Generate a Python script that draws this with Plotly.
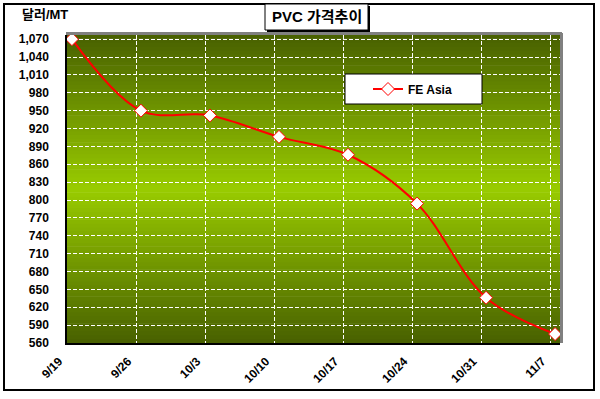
import plotly.graph_objects as go
import pandas as pd

# ---- data ----
dates = ["2008-09-19", "2008-09-26", "2008-10-03", "2008-10-10",
         "2008-10-17", "2008-10-24", "2008-10-31", "2008-11-07"]
tick_labels = ["9/19", "9/26", "10/3", "10/10", "10/17", "10/24", "10/31", "11/7"]
fe_asia = [1070, 950, 942, 906, 876, 794, 636, 575]
series_name = "FE Asia"
title_text = "PVC 가격추이"
y_title = "달러/MT"
y_min, y_max, y_step = 560, 1077, 30

# ---- layout geometry ----
W, H = 600, 399
L, R, T, B = 67, 40, 35, 56
PW, PH = W - L - R, H - T - B


def px(x):
    return (x - L) / PW


def py(y):
    return (H - B - y) / PH


FONT = "Liberation Sans, Arial, Noto Sans CJK KR, sans-serif"

# Excel date axis: points sit in the middle of their day
x_pos = pd.to_datetime(dates) + pd.Timedelta(hours=12)
x_range = [pd.Timestamp(dates[0]).isoformat(),
           (pd.Timestamp(dates[-1]) + pd.Timedelta(days=1)).isoformat()]

fig = go.Figure()
fig.add_trace(go.Scatter(
    x=x_pos, y=fe_asia, name=series_name, mode="lines+markers",
    line=dict(color="#ff0000", width=2, shape="spline", smoothing=1),
    marker=dict(symbol="diamond", size=10, color="white",
                line=dict(color="#ff0000", width=1)),
    showlegend=True,
))

shapes = []
# vertical gradient: dark olive at edges, bright yellow-green in the middle
dark = (72, 96, 0)
bright = (153, 204, 0)
n = 80
for i in range(n):
    t = (i + 0.5) / n
    f = 1 - abs(t - 0.5) * 2  # 0 at edges, 1 in middle
    c = tuple(round(d + (b - d) * f) for d, b in zip(dark, bright))
    shapes.append(dict(type="rect", xref="x domain", yref="y domain",
                       x0=0, x1=1, y0=i / n, y1=(i + 1) / n + 0.002,
                       fillcolor="rgb(%d,%d,%d)" % c, line=dict(width=0),
                       layer="below"))
# gray plot-area border on top and right
shapes.append(dict(type="line", xref="paper", yref="paper",
                   x0=px(66), x1=px(562), y0=py(33.5), y1=py(33.5),
                   line=dict(color="#808080", width=3), layer="above"))
shapes.append(dict(type="line", xref="paper", yref="paper",
                   x0=px(561.5), x1=px(561.5), y0=py(33), y1=py(343),
                   line=dict(color="#808080", width=3), layer="above"))
# outer chart border
shapes.append(dict(type="rect", xref="paper", yref="paper",
                   x0=px(4), x1=px(594), y0=py(4), y1=py(390),
                   line=dict(color="black", width=2), fillcolor="rgba(0,0,0,0)",
                   layer="above"))
# title box with shadow
shapes.append(dict(type="rect", xref="paper", yref="paper",
                   x0=px(267), x1=px(370), y0=py(6), y1=py(32),
                   line=dict(width=0), fillcolor="black", layer="above"))
shapes.append(dict(type="rect", xref="paper", yref="paper",
                   x0=px(265), x1=px(368), y0=py(4), y1=py(30),
                   line=dict(color="black", width=1), fillcolor="white",
                   layer="above"))
# legend box
shapes.append(dict(type="rect", xref="paper", yref="paper",
                   x0=px(345), x1=px(482), y0=py(74), y1=py(104),
                   line=dict(color="black", width=1), fillcolor="white",
                   layer="above"))

annotations = [
    dict(text=title_text, xref="paper", yref="paper", x=px(316.5), y=py(17),
         xanchor="center", yanchor="middle", showarrow=False,
         font=dict(family=FONT, size=15, color="black", weight="bold")),
    dict(text=y_title, xref="paper", yref="paper", x=px(20), y=py(14),
         xanchor="left", yanchor="middle", showarrow=False,
         font=dict(family=FONT, size=13, color="black", weight="bold")),
]

fig.update_layout(
    width=W, height=H,
    margin=dict(l=L, r=R, t=T, b=B, autoexpand=False),
    paper_bgcolor="white", plot_bgcolor="rgba(0,0,0,0)",
    font=dict(family=FONT, size=12, color="black", weight="bold"),
    shapes=shapes, annotations=annotations,
    legend=dict(x=px(368), y=py(89), xanchor="left", yanchor="middle",
                bgcolor="rgba(0,0,0,0)", borderwidth=0,
                font=dict(family=FONT, size=12, color="black", weight="bold")),
    xaxis=dict(type="date", range=x_range, tickmode="array",
               tickvals=dates, ticktext=tick_labels, tickangle=-45,
               showgrid=True, gridcolor="white", griddash="4px,2px", gridwidth=1,
               showline=True, linecolor="black", linewidth=1.5,
               ticks="", ticklabelstandoff=5, ticklabelshift=-8, zeroline=False,
               tickfont=dict(family=FONT, size=12, color="black", weight="bold")),
    yaxis=dict(range=[y_min, y_max], tick0=y_min, dtick=y_step, tickformat=",d",
               showgrid=True, gridcolor="white", griddash="4px,2px", gridwidth=1,
               showline=True, linecolor="black", linewidth=1.5,
               ticks="", ticklabelstandoff=14, zeroline=False,
               tickfont=dict(family=FONT, size=12, color="black", weight="bold")),
)

fig.write_html("out.html",
               config={"displayModeBar": False},
               post_script="document.body.style.margin='0';"
                           "document.body.style.overflow='hidden';")
